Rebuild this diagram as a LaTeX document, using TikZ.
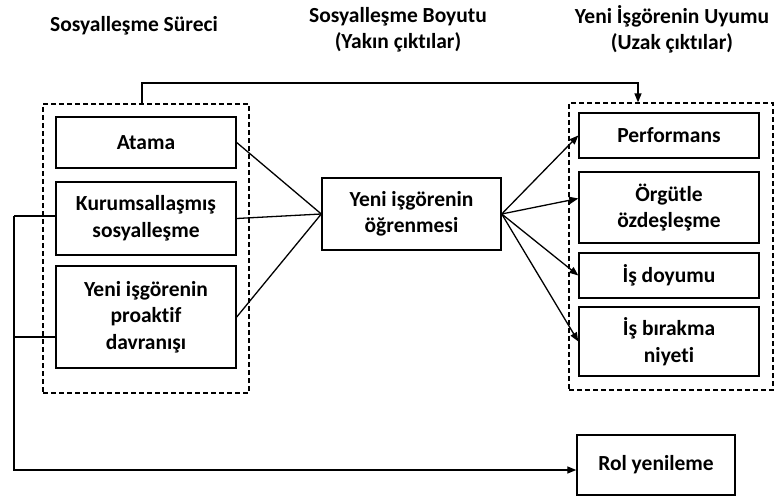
\documentclass[tikz,border=0pt]{standalone}
\usepackage{fontspec}
\setmainfont{Carlito}[Ligatures=NoCommon]
\usetikzlibrary{arrows.meta}
\newcommand\dgfont{\bfseries\fontsize{21.5}{26.5}\selectfont}
\tikzset{
  box/.style={draw, line width=1.4pt, align=center, font=\dgfont, inner sep=0pt},
  grp/.style={draw, line width=1.2pt, dash pattern=on 5pt off 3pt, inner sep=0pt},
  title/.style={align=center, font=\dgfont, inner sep=0pt, anchor=base},
  link/.style={line width=1.3pt},
  arr/.style={line width=1.3pt, -{Triangle[length=9pt,width=7pt]}}
}
\begin{document}
\begin{tikzpicture}[x=1pt,y=-1pt]
\useasboundingbox (0,0) rectangle (776,497);
% titles
\node[title] (t1) at (134,32) {Sosyalleşme Süreci};
\node[title] (t2) at (398,49) {Sosyalleşme Boyutu\\(Yakın çıktılar)};
\node[title] (t3) at (672,50) {Yeni İşgörenin Uyumu\\(Uzak çıktılar)};
% groups
\node[grp, minimum width=206pt, minimum height=289pt] (lgrp) at (146,248.5) {};
\node[grp, minimum width=204pt, minimum height=287pt] (rgrp) at (671,246.5) {};
% left boxes
\node[box, minimum width=180pt, minimum height=51pt] (atama) at (146,142.5) {Atama};
\node[box, minimum width=180pt, minimum height=73pt] (kurum) at (146,218.5) {Kurumsallaşmış\\sosyalleşme};
\node[box, minimum width=180pt, minimum height=102pt] (proak) at (146,317) {Yeni işgörenin\\proaktif\\davranışı};
% center
\node[box, minimum width=179pt, minimum height=72pt] (learn) at (411.5,214) {Yeni işgörenin\\öğrenmesi};
% right boxes
\node[box, minimum width=180pt, minimum height=45pt] (perf) at (669,135.5) {Performans};
\node[box, minimum width=180pt, minimum height=71pt] (orgut) at (669,207.5) {Örgütle\\özdeşleşme};
\node[box, minimum width=180pt, minimum height=45pt] (isdoy) at (669,275.5) {İş doyumu};
\node[box, minimum width=180pt, minimum height=69pt] (isbir) at (669,341.5) {İş bırakma\\niyeti};
% role
\node[box, minimum width=158pt, minimum height=60pt] (rol) at (656,465) {Rol yenileme};
% connectors left -> center
\draw[link] (atama.east) -- (learn.west);
\draw[link] (kurum.east) -- (learn.west);
\draw[link] (proak.east) -- (learn.west);
% center -> right
\draw[arr] (learn.east) -- (perf.west);
\draw[arr] (learn.east) -- ([yshift=9pt]orgut.west);
\draw[arr] (learn.east) -- (isdoy.west);
\draw[arr] (learn.east) -- (isbir.west);
% top connector
\coordinate (ta) at (142,83);
\coordinate (tb) at (638,83);
\draw[arr] (ta |- lgrp.north) -- (ta) -- (tb) -- (tb |- rgrp.north);
% feedback to role
\coordinate (fa) at (14,216);
\coordinate (fb) at (14,337);
\coordinate (fc) at (14,470);
\draw[link] (kurum.west |- fa) -- (fa);
\draw[link] (proak.west |- fb) -- (fb);
\draw[arr] (fa) -- (fc) -- (fc -| rol.west);
\end{tikzpicture}
\end{document}
